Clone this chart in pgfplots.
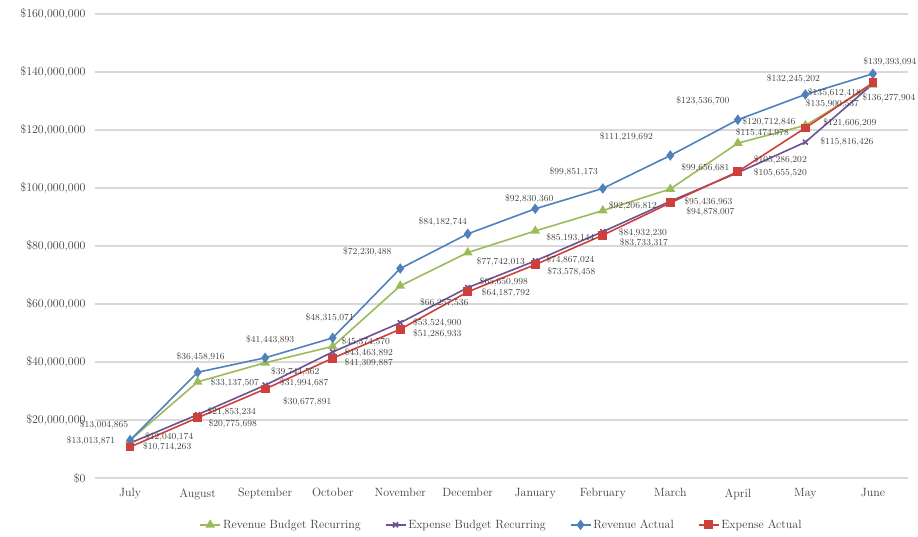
\documentclass[border=0pt]{standalone}
\usepackage{pgfplots}
\pgfplotsset{compat=1.18}

\definecolor{rbrgreen}{RGB}{155,187,89}
\definecolor{ebrpurple}{RGB}{108,82,146}
\definecolor{rablue}{RGB}{79,129,189}
\definecolor{eared}{RGB}{205,64,60}
\definecolor{gridgray}{RGB}{217,217,217}
\definecolor{lbl}{RGB}{64,64,64}

% data labels: {dx}{dy}{text}, dy = height of the label's middle over the point
% W: left edge at dx, E: right edge at dx, C: centred on dx
\protected\def\labW#1#2#3{\makebox[0pt][l]{\hspace*{#1bp}\raisebox{\dimexpr #2bp-0.5\height+0.5\depth\relax}{\$#3}}}
\protected\def\labE#1#2#3{\makebox[0pt][r]{\raisebox{\dimexpr #2bp-0.5\height+0.5\depth\relax}{\$#3}\hspace*{-#1bp}}}
\protected\def\labC#1#2#3{\makebox[0pt][c]{\hspace*{#1bp}\hspace*{#1bp}\raisebox{\dimexpr #2bp-0.5\height+0.5\depth\relax}{\$#3}}}

\begin{document}
\begin{tikzpicture}[x=1bp,y=1bp]
\begin{axis}[
    name=main,
    scale only axis,
    width=813bp,
    height=464bp,
    xmin=-0.52, xmax=11.52,
    ymin=0, ymax=160000000,
    axis line style={draw=none},
    ymajorgrids,
    grid style={gridgray, line width=1.3pt},
    xtick={0,...,11},
    xticklabels={July,August,September,October,November,December,January,February,March,April,May,June},
    ytick={0,20000000,40000000,60000000,80000000,100000000,120000000,140000000,160000000},
    yticklabels={{\$0},{\$20,000,000},{\$40,000,000},{\$60,000,000},{\$80,000,000},{\$100,000,000},{\$120,000,000},{\$140,000,000},{\$160,000,000}},
    major tick length=0pt,
    xtick pos=bottom, ytick pos=left,
    tick label style={font=\fontsize{12}{14}\selectfont, text=lbl},
    xticklabel style={yshift=-7bp},
    yticklabel style={xshift=-6bp},
    clip=false,
    every axis plot/.append style={line width=1.6pt},
    nodes near coords={\pgfplotspointmeta},
    point meta=explicit symbolic,
    nodes near coords style={font=\fontsize{9.3}{10}\selectfont, text=lbl,
        inner sep=0pt, anchor=base},
    legend columns=4,
    legend style={draw=none, at={(0.5,-0.101)}, anchor=center,
        font=\fontsize{12}{14}\selectfont, text=lbl,
        /tikz/every even column/.append style={column sep=22bp}},
    legend image code/.code={
        \draw[#1, mark repeat=2, mark phase=2] plot coordinates {(0bp,0bp) (10bp,0bp) (20bp,0bp)};
    },
]
\addplot[color=rbrgreen, mark=triangle*, mark size=4pt] coordinates {
    (0,13013871) [\labE{-15}{-1}{13,013,871}]
    (1,33137507) [\labW{13}{-1}{33,137,507}]
    (2,39744562) [\labW{6}{-9}{39,744,562}]
    (3,45374570) [\labW{9}{4}{45,374,570}]
    (4,66257536) [\labW{20}{-17}{66,257,536}]
    (5,77742013) [\labW{9}{-9}{77,742,013}]
    (6,85193144) [\labW{11}{-7}{85,193,144}]
    (7,92206812) [\labW{6}{5}{92,206,812}]
    (8,99656681) [\labW{11}{21}{99,656,681}]
    (9,115474978) [\labW{-2}{10}{115,474,978}]
    (10,121606209) [\labW{18}{2}{121,606,209}]
    (11,135612418) [\labE{-12}{-8}{135,612,418}]
};
\addlegendentry{Revenue Budget Recurring}
\addplot[color=ebrpurple, mark=x, mark size=3.5pt] coordinates {
    (0,12040174) [\labW{15}{6}{12,040,174}]
    (1,21853234) [\labW{10}{3}{21,853,234}]
    (2,31994687) [\labW{15}{2}{31,994,687}]
    (3,43463892) [\labW{12}{-1}{43,463,892}]
    (4,53524900) [\labW{13}{0}{53,524,900}]
    (5,65650998) [\labW{12}{6}{65,650,998}]
    (6,74867024) [\labW{11}{1}{74,867,024}]
    (7,84932230) [\labW{16}{-1}{84,932,230}]
    (8,95436963) [\labW{14}{-1}{95,436,963}]
    (9,105286202) [\labW{16}{13}{105,286,202}]
    (10,115816426) [\labW{15}{0}{115,816,426}]
    (11,135900537) [\labE{-14}{-20}{135,900,537}]
};
\addlegendentry{Expense Budget Recurring}
\addplot[color=rablue, mark=diamond*, mark size=4pt] coordinates {
    (0,13004865) [\labE{-2}{15}{13,004,865}]
    (1,36458916) [\labC{3}{15}{36,458,916}]
    (2,41443893) [\labC{5}{18}{41,443,893}]
    (3,48315071) [\labC{-3}{20}{48,315,071}]
    (4,72230488) [\labC{-33}{17}{72,230,488}]
    (5,84182744) [\labC{-25}{12}{84,182,744}]
    (6,92830360) [\labC{-6}{10}{92,830,360}]
    (7,99851173) [\labC{-29}{17}{99,851,173}]
    (8,111219692) [\labC{-44}{19}{111,219,692}]
    (9,123536700) [\labC{-35}{19}{123,536,700}]
    (10,132245202) [\labC{-12}{16}{132,245,202}]
    (11,139393094) [\labC{17}{12}{139,393,094}]
};
\addlegendentry{Revenue Actual}
\addplot[color=eared, mark=square*, mark size=3.6pt] coordinates {
    (0,10714263) [\labW{13}{0}{10,714,263}]
    (1,20775698) [\labW{11}{-6}{20,775,698}]
    (2,30677891) [\labW{18}{-13}{30,677,891}]
    (3,41309887) [\labW{12}{-5}{41,309,887}]
    (4,51286933) [\labW{13}{-5}{51,286,933}]
    (5,64187792) [\labW{14}{-1}{64,187,792}]
    (6,73578458) [\labW{12}{-7}{73,578,458}]
    (7,83733317) [\labW{17}{-8}{83,733,317}]
    (8,94878007) [\labW{16}{-9}{94,878,007}]
    (9,105655520) [\labW{16}{-1}{105,655,520}]
    (10,120712846) [\labE{-10}{6}{120,712,846}]
    (11,136277904) [\labC{16}{-15}{136,277,904}]
};
\addlegendentry{Expense Actual}
\end{axis}
\pgfresetboundingbox
\useasboundingbox (main.south west) ++(-95bp,-59bp) rectangle ++(918bp,537bp);
\end{tikzpicture}
\end{document}
